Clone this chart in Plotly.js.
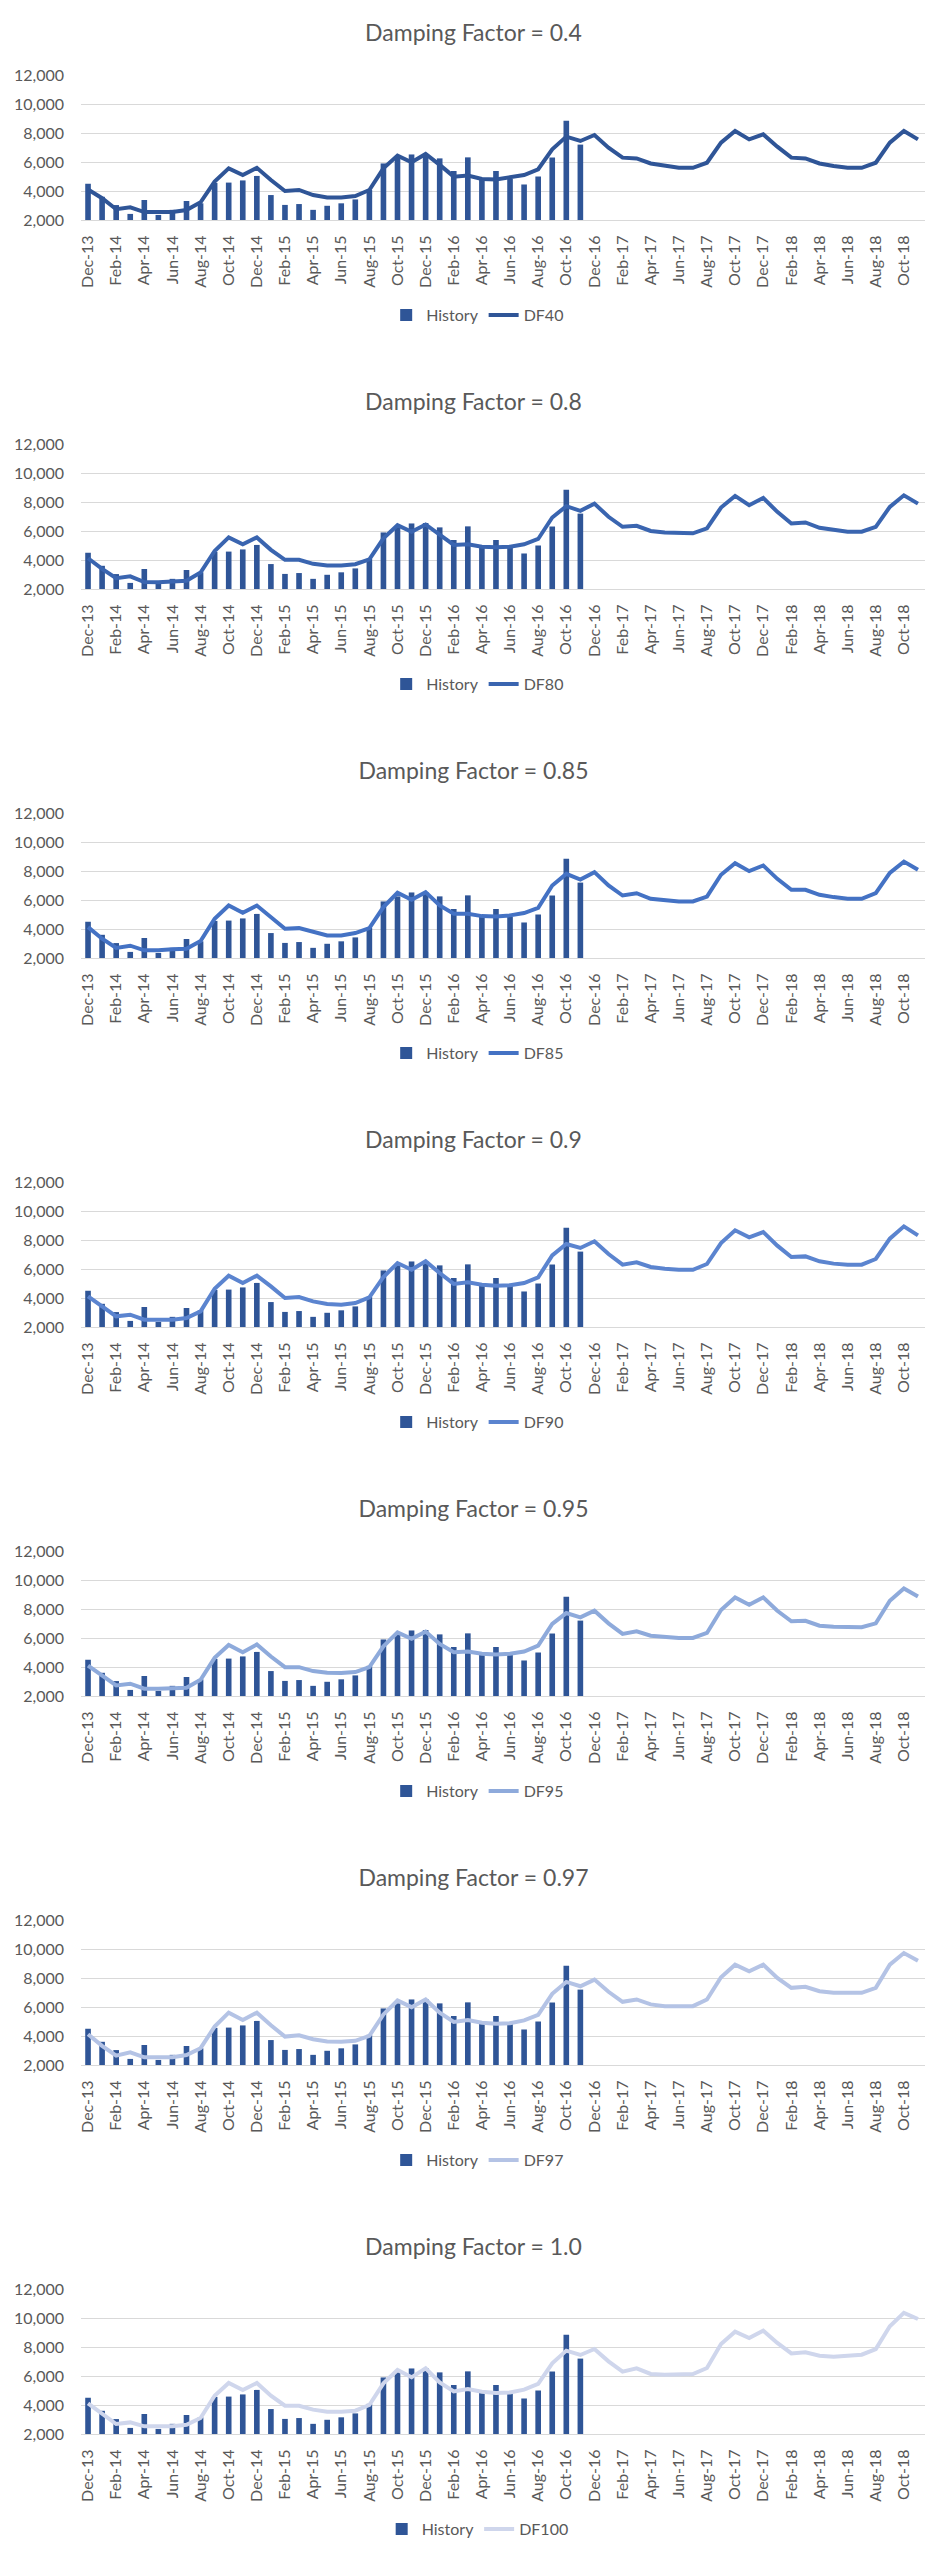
<!DOCTYPE html>
<html>
<head>
<meta charset="utf-8">
<script src="https://cdn.plot.ly/plotly-3.0.1.min.js"></script>
<style>
  body { margin: 0; background: #fff; width: 947px; }
  .chart { width: 947px; }
</style>
</head>
<body>
<div id="charts"></div>
<script>
var months = ['Dec-13','Jan-14','Feb-14','Mar-14','Apr-14','May-14','Jun-14','Jul-14','Aug-14','Sep-14','Oct-14','Nov-14',
  'Dec-14','Jan-15','Feb-15','Mar-15','Apr-15','May-15','Jun-15','Jul-15','Aug-15','Sep-15','Oct-15','Nov-15',
  'Dec-15','Jan-16','Feb-16','Mar-16','Apr-16','May-16','Jun-16','Jul-16','Aug-16','Sep-16','Oct-16','Nov-16',
  'Dec-16','Jan-17','Feb-17','Mar-17','Apr-17','May-17','Jun-17','Jul-17','Aug-17','Sep-17','Oct-17','Nov-17',
  'Dec-17','Jan-18','Feb-18','Mar-18','Apr-18','May-18','Jun-18','Jul-18','Aug-18','Sep-18','Oct-18','Nov-18']

// actuals, Dec-13 .. Nov-16
var history_values = [4500,3600,3030,2420,3380,2350,2700,3310,3150,4560,4580,4730,5040,3720,3040,3100,2700,2980,3150,3420,4080,5900,6250,6520,6550,6250,5380,6320,4900,5380,4850,4450,5000,6310,8850,7200]

var df40 = [4100,3500,2740,2870,2550,2550,2550,2690,3220,4650,5560,5100,5600,4760,4000,4070,3720,3560,3560,3650,4070,5560,6440,5980,6550,5800,4990,5060,4830,4800,4920,5100,5500,6870,7750,7450,7860,6990,6300,6250,5900,5720,5600,5600,5950,7330,8140,7560,7910,7060,6300,6250,5900,5720,5600,5600,5950,7330,8140,7560]
var df80 = [4120,3390,2750,2870,2480,2460,2525,2570,3140,4625,5560,5080,5560,4700,4010,4010,3735,3620,3620,3710,4050,5490,6400,5950,6450,5720,5040,5080,4920,4880,4920,5080,5450,6930,7710,7390,7890,6980,6290,6360,6000,5900,5840,5840,6180,7620,8420,7780,8280,7320,6520,6590,6220,6060,5950,5950,6290,7660,8460,7890]
var df85 = [4130,3330,2690,2850,2530,2530,2600,2640,3170,4710,5620,5120,5620,4780,4020,4060,3790,3560,3560,3720,4060,5510,6500,6010,6540,5620,5050,5050,4890,4870,4940,5100,5460,7000,7800,7410,7920,7000,6310,6470,6080,5970,5900,5900,6240,7740,8540,7990,8380,7460,6700,6700,6360,6200,6080,6080,6470,7870,8650,8080]
var df90 = [4115,3425,2735,2850,2505,2505,2505,2620,3080,4640,5540,5035,5540,4800,4000,4070,3770,3585,3540,3655,4045,5450,6410,5950,6530,5720,4970,5080,4920,4850,4875,5035,5425,6940,7725,7450,7910,7030,6300,6460,6140,6020,5950,5950,6345,7790,8670,8180,8550,7610,6830,6870,6530,6370,6300,6300,6690,8090,8940,8320]
var df95 = [4100,3420,2730,2850,2500,2500,2550,2570,3120,4630,5520,5020,5550,4720,3990,3990,3720,3600,3580,3650,3990,5430,6390,5940,6440,5590,5020,5070,4910,4860,4910,5070,5480,6970,7720,7420,7880,7010,6280,6460,6160,6050,6000,6000,6350,7930,8800,8290,8800,7880,7150,7190,6850,6780,6740,6740,7010,8570,9410,8860]
var df97 = [4120,3320,2640,2870,2530,2530,2530,2690,3160,4650,5610,5100,5610,4740,3960,4050,3780,3620,3600,3670,4010,5490,6450,5990,6520,5610,4970,5100,4920,4850,4880,5080,5450,6910,7730,7430,7890,7050,6360,6520,6180,6060,6060,6060,6520,8050,8920,8460,8920,8000,7320,7390,7090,6980,6980,6980,7320,8920,9720,9190]
var df100 = [4115,3380,2690,2800,2530,2530,2530,2640,3100,4640,5520,5030,5520,4640,3950,3950,3680,3540,3540,3610,4000,5490,6410,5910,6530,5560,4940,5100,4920,4830,4870,5060,5450,6870,7750,7450,7860,7010,6300,6530,6140,6090,6090,6140,6550,8210,9060,8620,9130,8280,7560,7630,7400,7330,7400,7470,7860,9430,10350,9930]

var factors = ['0.4','0.8','0.85','0.9','0.95','0.97','1.0']
var series_names = ['DF40','DF80','DF85','DF90','DF95','DF97','DF100']
var forecasts = [df40, df80, df85, df90, df95, df97, df100]

var bar_color = '#2f5597'
var line_colors = ['#2f5597','#3a65b0','#4472c4','#5b84cf','#8eaadb','#b4c3e5','#cfd6ec']
var chart_heights = [369, 369, 369, 369, 369, 369, 346]

var text_color = '#595959'
var font_family = 'Lato, "Open Sans", sans-serif'

// every other month gets a label
var tick_months = months.filter((m, i) => i % 2 == 0)

function draw_chart(index) {
  let div = document.createElement('div')
  div.className = 'chart'
  div.style.height = chart_heights[index] + 'px'
  document.getElementById('charts').appendChild(div)

  let plot_height = 145
  let top = 75

  let data = [
    {
      name: 'History',
      type: 'bar',
      x: months.slice(0, history_values.length),
      y: history_values,
      width: 0.4,
      marker: {color: bar_color}
    },
    {
      name: series_names[index],
      type: 'scatter',
      mode: 'lines',
      x: months,
      y: forecasts[index],
      line: {color: line_colors[index], width: 4}
    }
  ]

  let layout = {
    width: 947,
    height: chart_heights[index],
    margin: {l: 81, r: 22, t: top, b: chart_heights[index] - top - plot_height},
    paper_bgcolor: '#ffffff',
    plot_bgcolor: '#ffffff',
    font: {family: font_family, color: text_color, size: 16},
    title: {
      text: 'Damping Factor = ' + factors[index],
      font: {family: font_family, color: text_color, size: 23},
      x: 0.5,
      xanchor: 'center',
      y: 1 - 33 / chart_heights[index],
      yanchor: 'middle'
    },
    showlegend: true,
    legend: {
      orientation: 'h',
      x: 0.47,
      xanchor: 'center',
      y: -95 / plot_height,
      yanchor: 'middle',
      font: {size: 16, color: text_color},
      traceorder: 'normal'
    },
    xaxis: {
      type: 'category',
      categoryorder: 'array',
      categoryarray: months,
      range: [-0.5, months.length - 0.5],
      tickmode: 'array',
      tickvals: tick_months,
      ticktext: tick_months,
      tickangle: -90,
      ticklabelstandoff: 8,
      showgrid: false,
      showline: true,
      linecolor: '#d9d9d9',
      linewidth: 1,
      ticks: '',
      tickfont: {size: 16, color: text_color}
    },
    yaxis: {
      range: [2000, 12000],
      dtick: 2000,
      tickformat: ',d',
      showgrid: true,
      gridcolor: '#d9d9d9',
      gridwidth: 1,
      zeroline: false,
      ticks: '',
      ticklabelstandoff: 16,
      tickfont: {size: 16, color: text_color}
    },
    bargap: 0.6
  }

  Plotly.newPlot(div, data, layout, {staticPlot: true, displayModeBar: false})
}

for (let i = 0; i < series_names.length; i++) {
  draw_chart(i)
}
</script>
</body>
</html>
